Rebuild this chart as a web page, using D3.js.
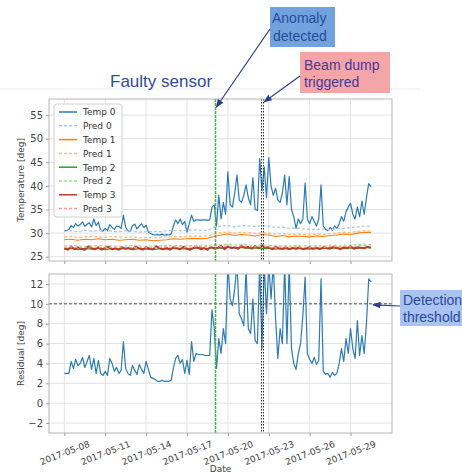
<!DOCTYPE html>
<html>
<head>
<meta charset="utf-8">
<script src="https://cdn.jsdelivr.net/npm/d3@7"></script>
<style>
  body { margin: 0; background: #fff; }
  svg { display: block; }
</style>
</head>
<body>
<svg id="chart" width="462" height="475"></svg>
<script>
// temperature sensors + residual of the model, two stacked panels

// tick labels for the shared date axis
const dateTicks = ["2017-05-08", "2017-05-11", "2017-05-14", "2017-05-17",
                   "2017-05-20", "2017-05-23", "2017-05-26", "2017-05-29"];
const tempTicks = [25, 30, 35, 40, 45, 50, 55];
const residTicks = [-2, 0, 2, 4, 6, 8, 10, 12];

const seriesNames = ["Temp 0", "Pred 0", "Temp 1", "Pred 1", "Temp 2", "Pred 2", "Temp 3", "Pred 3"];

// first sample 2017-05-08 00:00, one value every 4 hours
const temp0 = [
  30.6, 30.5, 30.8, 31.6, 31.2, 32.0, 31.5, 31.8, 32.4, 31.4,
  31.9, 32.2, 31.3, 33.0, 31.6, 32.3, 30.6, 30.4, 31.0, 30.5,
  31.8, 31.2, 30.8, 31.5, 31.4, 31.0, 33.8, 31.2, 30.5, 30.3,
  31.6, 31.9, 30.9, 31.5, 32.0, 31.2, 31.7, 30.2, 29.9, 29.7,
  29.6, 29.7, 29.6, 29.8, 29.6, 29.7, 29.6, 29.8, 31.5, 32.8,
  32.0, 33.0, 31.8, 32.5, 30.2, 32.0, 33.8, 32.5, 32.8, 32.8,
  32.7, 32.8, 32.8, 32.7, 32.8, 35.5, 36.0, 31.5, 38.0, 33.0,
  36.5, 34.0, 43.0, 36.0, 35.5, 38.5, 42.3, 37.0, 36.5, 38.0,
  40.2, 37.5, 36.0, 41.7, 35.0, 34.8, 45.8, 39.0, 44.0, 37.5,
  46.0, 40.0, 38.0, 39.5, 37.0, 36.5, 38.5, 42.3, 36.0, 42.0,
  35.0, 33.5, 31.0, 33.0, 32.0, 33.0, 40.6, 33.0, 32.0, 33.5,
  32.5, 31.5, 33.0, 40.2, 31.5, 30.8, 30.5, 31.2, 30.6, 31.5,
  31.0, 32.0, 33.5, 32.5, 34.5, 35.5, 36.3, 34.0, 33.0, 35.5,
  33.5, 36.8, 34.0, 37.5, 40.5, 39.8
];
const residual = [
  3.0, 3.0, 3.0, 4.2, 3.5, 4.4, 3.8, 4.0, 4.6, 3.6,
  4.2, 4.8, 3.4, 4.5, 3.0, 4.3, 3.0, 2.8, 3.2, 2.8,
  4.5, 4.0, 3.2, 3.6, 3.0, 3.3, 6.2, 3.5, 3.0, 2.8,
  3.8, 3.3, 2.9, 3.9, 3.4, 3.0, 4.2, 3.4, 2.6, 2.5,
  2.4, 2.2, 2.2, 2.3, 2.2, 2.2, 2.2, 2.3, 3.5, 4.5,
  4.8, 4.0, 4.4, 3.0, 4.3, 2.9, 6.2, 4.2, 5.0, 4.9,
  4.9, 4.9, 4.8, 4.8, 4.8, 9.4, 7.5, 3.5, 6.5, 5.0,
  7.5, 6.0, 14, 10.5, 9.8, 11.5, 14, 9.0, 8.5, 7.8,
  13.5, 7.5, 7.0, 10.5, 6.3, 6.0, 14, 5.5, 14, 9.0,
  14, 10.5, 14, 8.5, 4.5, 7.5, 6.0, 14, 6.0, 14,
  5.5, 4.0, 3.4, 5.0, 6.0, 8.8, 12.7, 5.0, 4.4, 4.0,
  4.6, 3.9, 4.3, 12.5, 3.2, 2.9, 3.0, 2.6, 3.1, 2.8,
  3.0, 4.0, 5.5, 4.2, 6.5, 5.0, 7.5, 5.5, 4.5, 8.3,
  4.8, 6.8, 5.0, 8.0, 12.5, 12.2
];

// one value every 12 hours
const pred0 = [
  30.4, 30.5, 30.3, 30.6, 30.4, 30.5, 30.6, 30.4, 30.3, 30.5,
  30.4, 30.2, 30.3, 30.4, 30.3, 30.5, 30.6, 30.5, 30.6, 30.7,
  30.6, 30.6, 31.3, 31.5, 31.6, 31.3, 31.6, 31.5, 31.4, 31.6,
  31.5, 31.2, 31.3, 31.0, 31.1, 30.9, 30.8, 30.8, 30.9, 30.7,
  30.9, 31.0, 31.2, 31.3, 31.5, 31.4
];
const temp1 = [
  28.6, 28.7, 28.5, 28.7, 28.6, 28.8, 28.6, 28.7, 28.5, 28.6,
  28.7, 28.5, 28.6, 28.4, 28.5, 28.6, 28.8, 28.7, 28.8, 28.9,
  28.8, 28.9, 29.3, 29.6, 29.8, 29.5, 29.7, 29.6, 29.4, 29.7,
  29.6, 29.3, 29.5, 29.2, 29.4, 29.3, 29.2, 29.4, 29.3, 29.5,
  29.6, 29.8, 29.7, 30.0, 30.2, 30.1
];
const pred1 = [
  29.2, 29.3, 29.1, 29.2, 29.3, 29.2, 29.1, 29.3, 29.2, 29.1,
  29.2, 29.0, 29.1, 29.0, 29.1, 29.2, 29.3, 29.2, 29.3, 29.4,
  29.3, 29.4, 29.8, 30.1, 30.2, 30.0, 30.2, 30.1, 29.9, 30.1,
  30.0, 29.8, 29.9, 29.7, 29.8, 29.7, 29.6, 29.8, 29.7, 29.9,
  30.0, 30.2, 30.1, 30.4, 30.5, 30.4
];
const temp2 = [
  26.6, 26.8, 26.5, 26.7, 26.6, 26.8, 26.5, 26.7, 26.6, 26.8,
  26.5, 26.7, 26.6, 26.5, 26.7, 26.6, 26.8, 26.7, 26.6, 26.8,
  26.9, 26.7, 27.0, 26.8, 27.1, 26.9, 27.0, 26.8, 26.9, 26.7,
  26.8, 26.6, 26.7, 26.6, 26.8, 26.7, 26.6, 26.8, 26.7, 26.9,
  26.8, 26.7, 26.9, 26.8, 27.0, 26.9
];
const pred2 = [
  27.3, 27.4, 27.3, 27.2, 27.3, 27.4, 27.3, 27.3, 27.2, 27.3,
  27.4, 27.3, 27.2, 27.3, 27.3, 27.4, 27.3, 27.4, 27.3, 27.4,
  27.5, 27.4, 27.6, 27.5, 27.7, 27.5, 27.6, 27.5, 27.4, 27.5,
  27.4, 27.3, 27.4, 27.3, 27.4, 27.3, 27.3, 27.4, 27.3, 27.5,
  27.4, 27.5, 27.4, 27.6, 27.7, 27.6
];
const pred3 = [
  27.0, 27.1, 26.9, 27.0, 27.1, 27.0, 26.9, 27.0, 27.1, 27.0,
  26.9, 27.0, 27.0, 26.9, 27.0, 27.1, 27.0, 27.1, 27.0, 27.1,
  27.2, 27.1, 27.3, 27.2, 27.3, 27.2, 27.3, 27.2, 27.1, 27.2,
  27.1, 27.0, 27.1, 27.0, 27.1, 27.0, 27.0, 27.1, 27.0, 27.2,
  27.1, 27.2, 27.1, 27.3, 27.4, 27.3
];

// one value every 6 hours
const temp3 = [
  26.8, 26.5, 27.1, 26.6, 27.0, 26.7, 26.5, 27.2, 26.8, 26.6,
  27.0, 26.5, 26.9, 27.1, 26.6, 26.8, 26.5, 27.0, 26.7, 26.9,
  26.6, 27.1, 26.8, 26.5, 27.0, 26.7, 26.6, 27.2, 26.8, 26.6,
  26.9, 26.5, 27.0, 26.8, 26.6, 27.1, 26.7, 26.5, 26.9, 27.0,
  26.6, 26.8, 26.5, 27.1, 26.7, 26.9, 27.3, 26.6, 27.2, 26.8,
  27.0, 26.7, 27.3, 26.9, 27.1, 26.7, 27.2, 26.8, 27.4, 26.9,
  27.0, 26.6, 27.1, 26.8, 26.7, 27.0, 26.6, 26.9, 26.7, 27.0,
  26.6, 26.8, 27.0, 26.7, 26.9, 26.6, 27.0, 26.8, 26.7, 27.1,
  26.9, 26.6, 27.0, 26.8, 27.2, 26.7, 27.0, 26.9, 26.8, 27.1, 26.9
];

const anomalyTime = "2017-05-19T02:00";
const beamDumpTimes = ["2017-05-22T10:00", "2017-05-22T14:00"];
const threshold = 10;

let parseDay = d3.timeParse("%Y-%m-%d");
let parseTime = d3.timeParse("%Y-%m-%dT%H:%M");
let start = parseDay("2017-05-08");

function toPoints(values, stepHours) {
  return values.map((v, i) => ({ date: d3.timeHour.offset(start, i * stepHours), value: v }));
}

let svg = d3.select("#chart");

let x = d3.scaleTime()
  .domain([new Date(2017, 4, 6, 21), new Date(2017, 5, 1, 1)])
  .range([49, 392]);
let yTop = d3.scaleLinear().domain([24.1, 58.4]).range([261, 99]);
let yBot = d3.scaleLinear().domain([-3, 13]).range([433, 274]);

let tickDates = dateTicks.map(parseDay);

// faint slide rule line above the plot
svg.append("line")
  .attr("x1", 0).attr("x2", 420).attr("y1", 89).attr("y2", 89)
  .attr("stroke", "#ececec").attr("stroke-width", 1);

function drawFrame(y, ticks, name, showDates) {
  let [y0, y1] = y.range();
  let g = svg.append("g");
  let clipId = "clip-" + name;
  svg.append("clipPath").attr("id", clipId)
    .append("rect")
    .attr("x", 49).attr("y", y1).attr("width", 343).attr("height", y0 - y1);

  // grid
  g.selectAll(".vgrid").data(tickDates).join("line")
    .attr("x1", d => x(d)).attr("x2", d => x(d))
    .attr("y1", y1).attr("y2", y0)
    .attr("stroke", "#e2e2e2").attr("stroke-width", 1);
  g.selectAll(".hgrid").data(ticks).join("line")
    .attr("x1", 49).attr("x2", 392)
    .attr("y1", d => y(d)).attr("y2", d => y(d))
    .attr("stroke", "#e2e2e2").attr("stroke-width", 1);

  let yAxis = d3.axisLeft(y).tickValues(ticks).tickSize(3).tickPadding(3)
    .tickFormat(d => d < 0 ? "\u2212" + Math.abs(d) : d);
  let ya = svg.append("g").attr("transform", "translate(49,0)").call(yAxis);
  ya.select(".domain").remove();
  ya.selectAll("line").attr("stroke", "#999");
  ya.selectAll("text").attr("fill", "#444").style("font", "10px 'DejaVu Sans'");

  let xAxis = d3.axisBottom(x).tickValues(tickDates).tickSize(3)
    .tickFormat(showDates ? d3.timeFormat("%Y-%m-%d") : "");
  let xa = svg.append("g").attr("transform", "translate(0," + y0 + ")").call(xAxis);
  xa.select(".domain").remove();
  xa.selectAll("line").attr("stroke", "#999");
  if (showDates) {
    xa.selectAll("text")
      .attr("fill", "#444")
      .style("font", "9px 'DejaVu Sans'")
      .attr("text-anchor", "middle")
      .attr("dy", 0)
      .attr("y", 0)
      .attr("transform", "translate(0,20) rotate(-21)")
      .attr("dominant-baseline", "central");
  }
  return { g: g, clip: "url(#" + clipId + ")" };
}

function drawBorder(y) {
  let [y0, y1] = y.range();
  svg.append("rect")
    .attr("x", 49).attr("y", y1).attr("width", 343).attr("height", y0 - y1)
    .attr("fill", "none").attr("stroke", "#b5b5b5").attr("stroke-width", 1);
}

let topFrame = drawFrame(yTop, tempTicks, "top", false);
let botFrame = drawFrame(yBot, residTicks, "bot", true);

let lineTop = d3.line().x(d => x(d.date)).y(d => yTop(d.value));
let lineBot = d3.line().x(d => x(d.date)).y(d => yBot(d.value));

// series as drawn by matplotlib, in legend order
let series = [
  { name: seriesNames[0], data: toPoints(temp0, 4), color: "#2a7ab8", width: 1.2, dash: null },
  { name: seriesNames[1], data: toPoints(pred0, 12), color: "#aec7e8", width: 1.3, dash: "3,2" },
  { name: seriesNames[2], data: toPoints(temp1, 12), color: "#ff7f0e", width: 1.1, dash: null },
  { name: seriesNames[3], data: toPoints(pred1, 12), color: "#ffbb78", width: 1.3, dash: "3,2" },
  { name: seriesNames[4], data: toPoints(temp2, 12), color: "#2ca02c", width: 1.3, dash: null },
  { name: seriesNames[5], data: toPoints(pred2, 12), color: "#98df8a", width: 1.1, dash: "3,2" },
  { name: seriesNames[6], data: toPoints(temp3, 6), color: "#bf3a2b", width: 2, dash: null },
  { name: seriesNames[7], data: toPoints(pred3, 12), color: "#ff9896", width: 1.1, dash: "3,2" }
];

let gTop = svg.append("g").attr("clip-path", topFrame.clip);
series.forEach(s => {
  gTop.append("path")
    .datum(s.data)
    .attr("d", lineTop)
    .attr("fill", "none")
    .attr("stroke", s.color)
    .attr("stroke-width", s.width)
    .attr("stroke-dasharray", s.dash)
    .attr("stroke-linejoin", "round");
});

let gBot = svg.append("g").attr("clip-path", botFrame.clip);
gBot.append("path")
  .datum(toPoints(residual, 4))
  .attr("d", lineBot)
  .attr("fill", "none")
  .attr("stroke", "#2a7ab8")
  .attr("stroke-width", 1.2)
  .attr("stroke-linejoin", "round");

// threshold
svg.append("line")
  .attr("x1", 49).attr("x2", 392)
  .attr("y1", yBot(threshold)).attr("y2", yBot(threshold))
  .attr("stroke", "#555").attr("stroke-width", 1)
  .attr("stroke-dasharray", "3,2");

// event markers on both panels, snapped to the pixel grid so they stay crisp
let crisp = v => Math.round(v) + 0.5;
[yTop, yBot].forEach(y => {
  let [y0, y1] = y.range();
  let xa = crisp(x(parseTime(anomalyTime)));
  svg.append("line")
    .attr("x1", xa).attr("x2", xa)
    .attr("y1", y1).attr("y2", y0)
    .attr("stroke", "#4cb34c").attr("stroke-width", 1.6)
    .attr("stroke-dasharray", "3,1");
  beamDumpTimes.forEach(t => {
    let xb = crisp(x(parseTime(t)));
    svg.append("line")
      .attr("x1", xb).attr("x2", xb)
      .attr("y1", y1).attr("y2", y0)
      .attr("stroke", "#333").attr("stroke-width", 1)
      .attr("stroke-dasharray", "1.5,1.5");
  });
});

drawBorder(yTop);
drawBorder(yBot);

// legend
let leg = svg.append("g");
leg.append("rect")
  .attr("x", 54).attr("y", 104).attr("width", 68).attr("height", 113)
  .attr("rx", 3)
  .attr("fill", "#fff").attr("fill-opacity", 0.85)
  .attr("stroke", "#d0d0d0");
series.forEach((s, i) => {
  let ly = 112 + i * 13.8;
  leg.append("line")
    .attr("x1", 59).attr("x2", 77).attr("y1", ly).attr("y2", ly)
    .attr("stroke", s.color).attr("stroke-width", 1.5)
    .attr("stroke-dasharray", s.dash);
  leg.append("text")
    .attr("x", 83).attr("y", ly + 3.3)
    .attr("fill", "#333")
    .style("font", "9px 'DejaVu Sans'")
    .text(s.name);
});

// axis titles
svg.append("text")
  .attr("transform", "translate(24," + (yTop.range()[0] + yTop.range()[1]) / 2 + ") rotate(-90)")
  .attr("text-anchor", "middle")
  .attr("fill", "#444")
  .style("font", "9px 'DejaVu Sans'")
  .text("Temperature [deg]");
svg.append("text")
  .attr("transform", "translate(24," + (yBot.range()[0] + yBot.range()[1]) / 2 + ") rotate(-90)")
  .attr("text-anchor", "middle")
  .attr("fill", "#444")
  .style("font", "9px 'DejaVu Sans'")
  .text("Residual [deg]");
svg.append("text")
  .attr("x", 220.5).attr("y", 472)
  .attr("text-anchor", "middle")
  .attr("fill", "#444")
  .style("font", "9px 'DejaVu Sans'")
  .text("Date");

// slide annotations
let defs = svg.append("defs");
defs.append("marker")
  .attr("id", "arrow")
  .attr("viewBox", "0 0 10 10")
  .attr("refX", 9).attr("refY", 5)
  .attr("markerWidth", 7).attr("markerHeight", 7)
  .attr("orient", "auto-start-reverse")
  .append("path")
  .attr("d", "M0,1 L10,5 L0,9 z")
  .attr("fill", "#2d3f8f");

function box(x0, y0, w, h, fill) {
  svg.append("rect").attr("x", x0).attr("y", y0).attr("width", w).attr("height", h).attr("fill", fill);
}
function label(x0, y0, txt, color, size) {
  svg.append("text").attr("x", x0).attr("y", y0)
    .attr("fill", color)
    .style("font", size + "px 'Liberation Sans', Arial, sans-serif")
    .text(txt);
}
function arrow(x1, y1, x2, y2) {
  svg.append("line")
    .attr("x1", x1).attr("y1", y1).attr("x2", x2).attr("y2", y2)
    .attr("stroke", "#2d3f8f").attr("stroke-width", 1.2)
    .attr("marker-end", "url(#arrow)");
}

label(110, 87, "Faulty sensor", "#2f4a9e", 17);

box(270, 7, 65, 40, "#72a2de");
label(272, 23, "Anomaly", "#2a4a9c", 14);
label(273, 40.5, "detected", "#2a4a9c", 14);
arrow(270, 29, x(parseTime(anomalyTime)) + 1, 107);

box(300, 52, 90, 41, "#f4a5a7");
label(304, 70, "Beam dump", "#45399a", 14);
label(304, 87, "triggered", "#45399a", 14);
arrow(300, 76, x(parseTime(beamDumpTimes[1])) + 1, 102);

box(400, 290, 70, 36, "#a9c3f3");
label(403, 305, "Detection", "#2b4a9a", 14);
label(403, 322, "threshold", "#2b4a9a", 14);
arrow(400, 306, 373, yBot(threshold) + 1);
</script>
</body>
</html>
